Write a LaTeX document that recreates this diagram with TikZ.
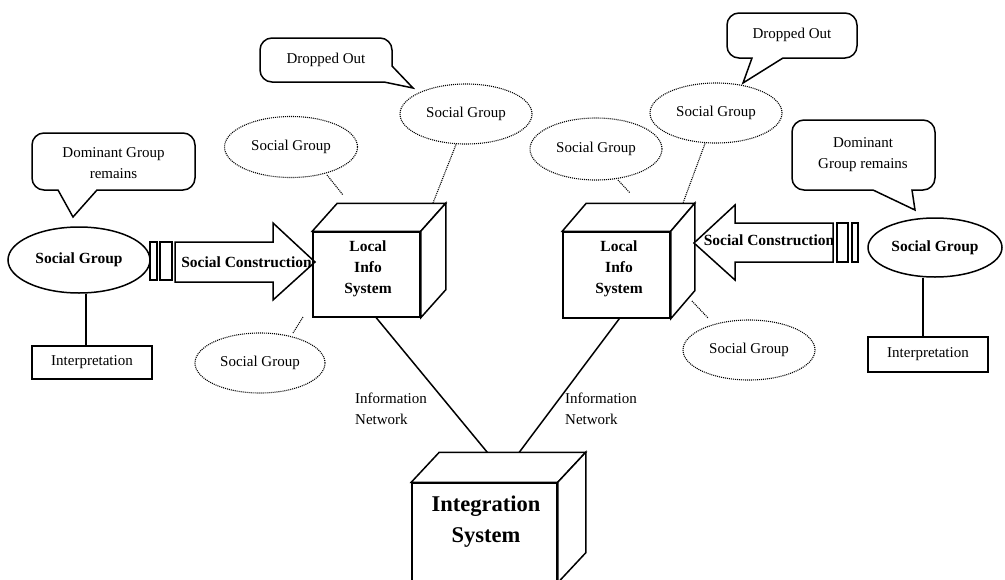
\documentclass[tikz,border=0pt]{standalone}
\usepackage{fontspec}
\setmainfont{Liberation Serif}
\usetikzlibrary{shapes.geometric,backgrounds}
\begin{document}
\begin{tikzpicture}[x=1pt,y=-1pt,
  every node/.style={font=\fontsize{15}{21}\selectfont, inner sep=0pt},
  ln/.style={line width=1.5pt, line join=miter},
  dots/.style={line width=1.1pt, dash pattern=on 1pt off 1pt},
  sg/.style={ellipse, draw, dots, minimum width=132pt, minimum height=60pt},
  sgmain/.style={ellipse, draw, ln, minimum width=142pt, minimum height=66pt,
    font=\fontsize{15.5}{21}\selectfont\bfseries},
  interp/.style={rectangle, draw, ln, minimum width=120pt, minimum height=33pt},
  face/.style={rectangle, draw, ln, fill=white},
  boldlabel/.style={font=\fontsize{15.5}{21}\selectfont\bfseries, align=center},
  bubble/.style={ln, fill=white},
  netlabel/.style={align=left, anchor=west},
]
\useasboundingbox (0,0) rectangle (1005,579);

% ---------- cubes: front face node, then top and side faces
\node[face, minimum width=107pt, minimum height=85pt] (lcube) at (366.5,274.5) {};
\node[face, minimum width=107pt, minimum height=86pt] (rcube) at (616.5,275) {};
\node[face, minimum width=145pt, minimum height=99pt] (integ) at (484.5,532.5) {};
\foreach \c/\dx/\dy in {lcube/25/-28, rcube/24/-28, integ/28/-30}{
  \draw[ln, fill=white] (\c.north west) -- ++(\dx,\dy) -- ([xshift=\dx pt, yshift=-\dy pt]\c.north east)
    -- (\c.north east) -- cycle;
  \draw[ln, fill=white] (\c.north east) -- ([xshift=\dx pt, yshift=-\dy pt]\c.north east)
    -- ([xshift=\dx pt, yshift=-\dy pt]\c.south east) -- (\c.south east) -- cycle;
}
\node[boldlabel] (ltext) at (368,269) {Local\\Info\\System};
\node[boldlabel] (rtext) at (619,269) {Local\\Info\\System};
\node[align=center, font=\fontsize{22.5}{31}\selectfont\bfseries] (integtext) at (486,522) {Integration\\System};

% ---------- information network links, meeting the back edge of the integration cube
\begin{scope}[on background layer]
  \draw[ln] ([xshift=64pt]lcube.south west) -- ([xshift=76pt, yshift=30pt]integ.north west);
  \draw[ln] ([xshift=57pt]rcube.south west) -- ([xshift=108pt, yshift=30pt]integ.north west);
\end{scope}
\node[netlabel] (netL) at (355,408.5) {Information\\Network};
\node[netlabel] (netR) at (565,408.5) {Information\\Network};

% ---------- left side
\node[sgmain] (lsg) at (79,260) {Social Group};
\node[interp] (linterp) at (92,362.5) {Interpretation};
\draw[ln] (86,0 |- lsg.south) -- (86,0 |- linterp.north);

\draw[ln] (150,242) rectangle (157,280);
\draw[ln] (160,242) rectangle (172,280);
\draw[ln] (175,242) -- (273,242) -- (273,223) -- (315,262) -- (273,300) -- (273,282) -- (175,282) -- cycle;
\node[boldlabel] (lsc) at (246.5,262) {Social Construction};

\draw[bubble] (73,217) -- (97,190) [rounded corners=12pt] -- (195,190) -- (195,133) -- (32,133)
  -- (32,190) [sharp corners] -- (58,190) -- cycle;
\node[align=center] (ldom) at (113.5,163) {Dominant Group\\remains};

\draw[bubble] (413,88) -- (384,82) [rounded corners=12pt] -- (260,82) -- (260,38) -- (392,38)
  [sharp corners] -- (392,66) -- cycle;
\node (ldrop) at (326,60) {Dropped Out};

\node[sg] (sgL1) at (466,114) {Social Group};
\node[sg, minimum width=133pt, minimum height=61pt] (sgL2) at (291,147) {Social Group};
\node[sg, minimum width=130pt] (sgL3) at (260,363) {Social Group};
\coordinate (lcTop) at (433,203);
\coordinate (lcTopL) at (343,195);
\coordinate (lcBot) at (303,317);
\draw[dots] ([xshift=-10pt]sgL1.south) -- (lcTop);
\draw[dots] (327,175) -- (lcTopL);
\draw[dots] (lcBot) -- (293,333);

% ---------- right side
\node[sgmain, minimum width=134pt, minimum height=59pt] (rsg) at (935,247.5) {Social Group};
\node[interp, minimum height=35pt] (rinterp) at (928,354.5) {Interpretation};
\draw[ln] (923,0 |- rsg.south) -- (923,0 |- rinterp.north);

\draw[ln] (837,223) rectangle (848,262);
\draw[ln] (852,223) rectangle (858,262);
\draw[ln, fill=white] (833,223) -- (735,223) -- (735,205) -- (694,243) -- (735,280) -- (735,262) -- (833,262) -- cycle;
\node[boldlabel] (rsc) at (769,240) {Social Construction};

\draw[bubble] (915,210) -- (873,190) [rounded corners=12pt] -- (792,190) -- (792,120) -- (935,120)
  -- (935,190) [sharp corners] -- (912,190) -- cycle;
\node[align=center] (rdom) at (863,155) {Dominant\\Group remains};

\draw[bubble] (743,83) -- (783,58) [rounded corners=12pt] -- (857,58) -- (857,13) -- (727,13)
  -- (727,58) [sharp corners] -- (752,58) -- cycle;
\node (rdrop) at (792,35) {Dropped Out};

\node[sg] (sgR1) at (716,113) {Social Group};
\node[sg, minimum height=62pt] (sgR2) at (596,149) {Social Group};
\node[sg] (sgR3) at (749,350) {Social Group};
\coordinate (rcTop) at (683,203);
\coordinate (rcTopL) at (630,193);
\coordinate (rcBot) at (692,301);
\draw[dots] ([xshift=-11pt]sgR1.south) -- (rcTop);
\draw[dots] (618,180) -- (rcTopL);
\draw[dots] (rcBot) -- (708,318);
\end{tikzpicture}
\end{document}
